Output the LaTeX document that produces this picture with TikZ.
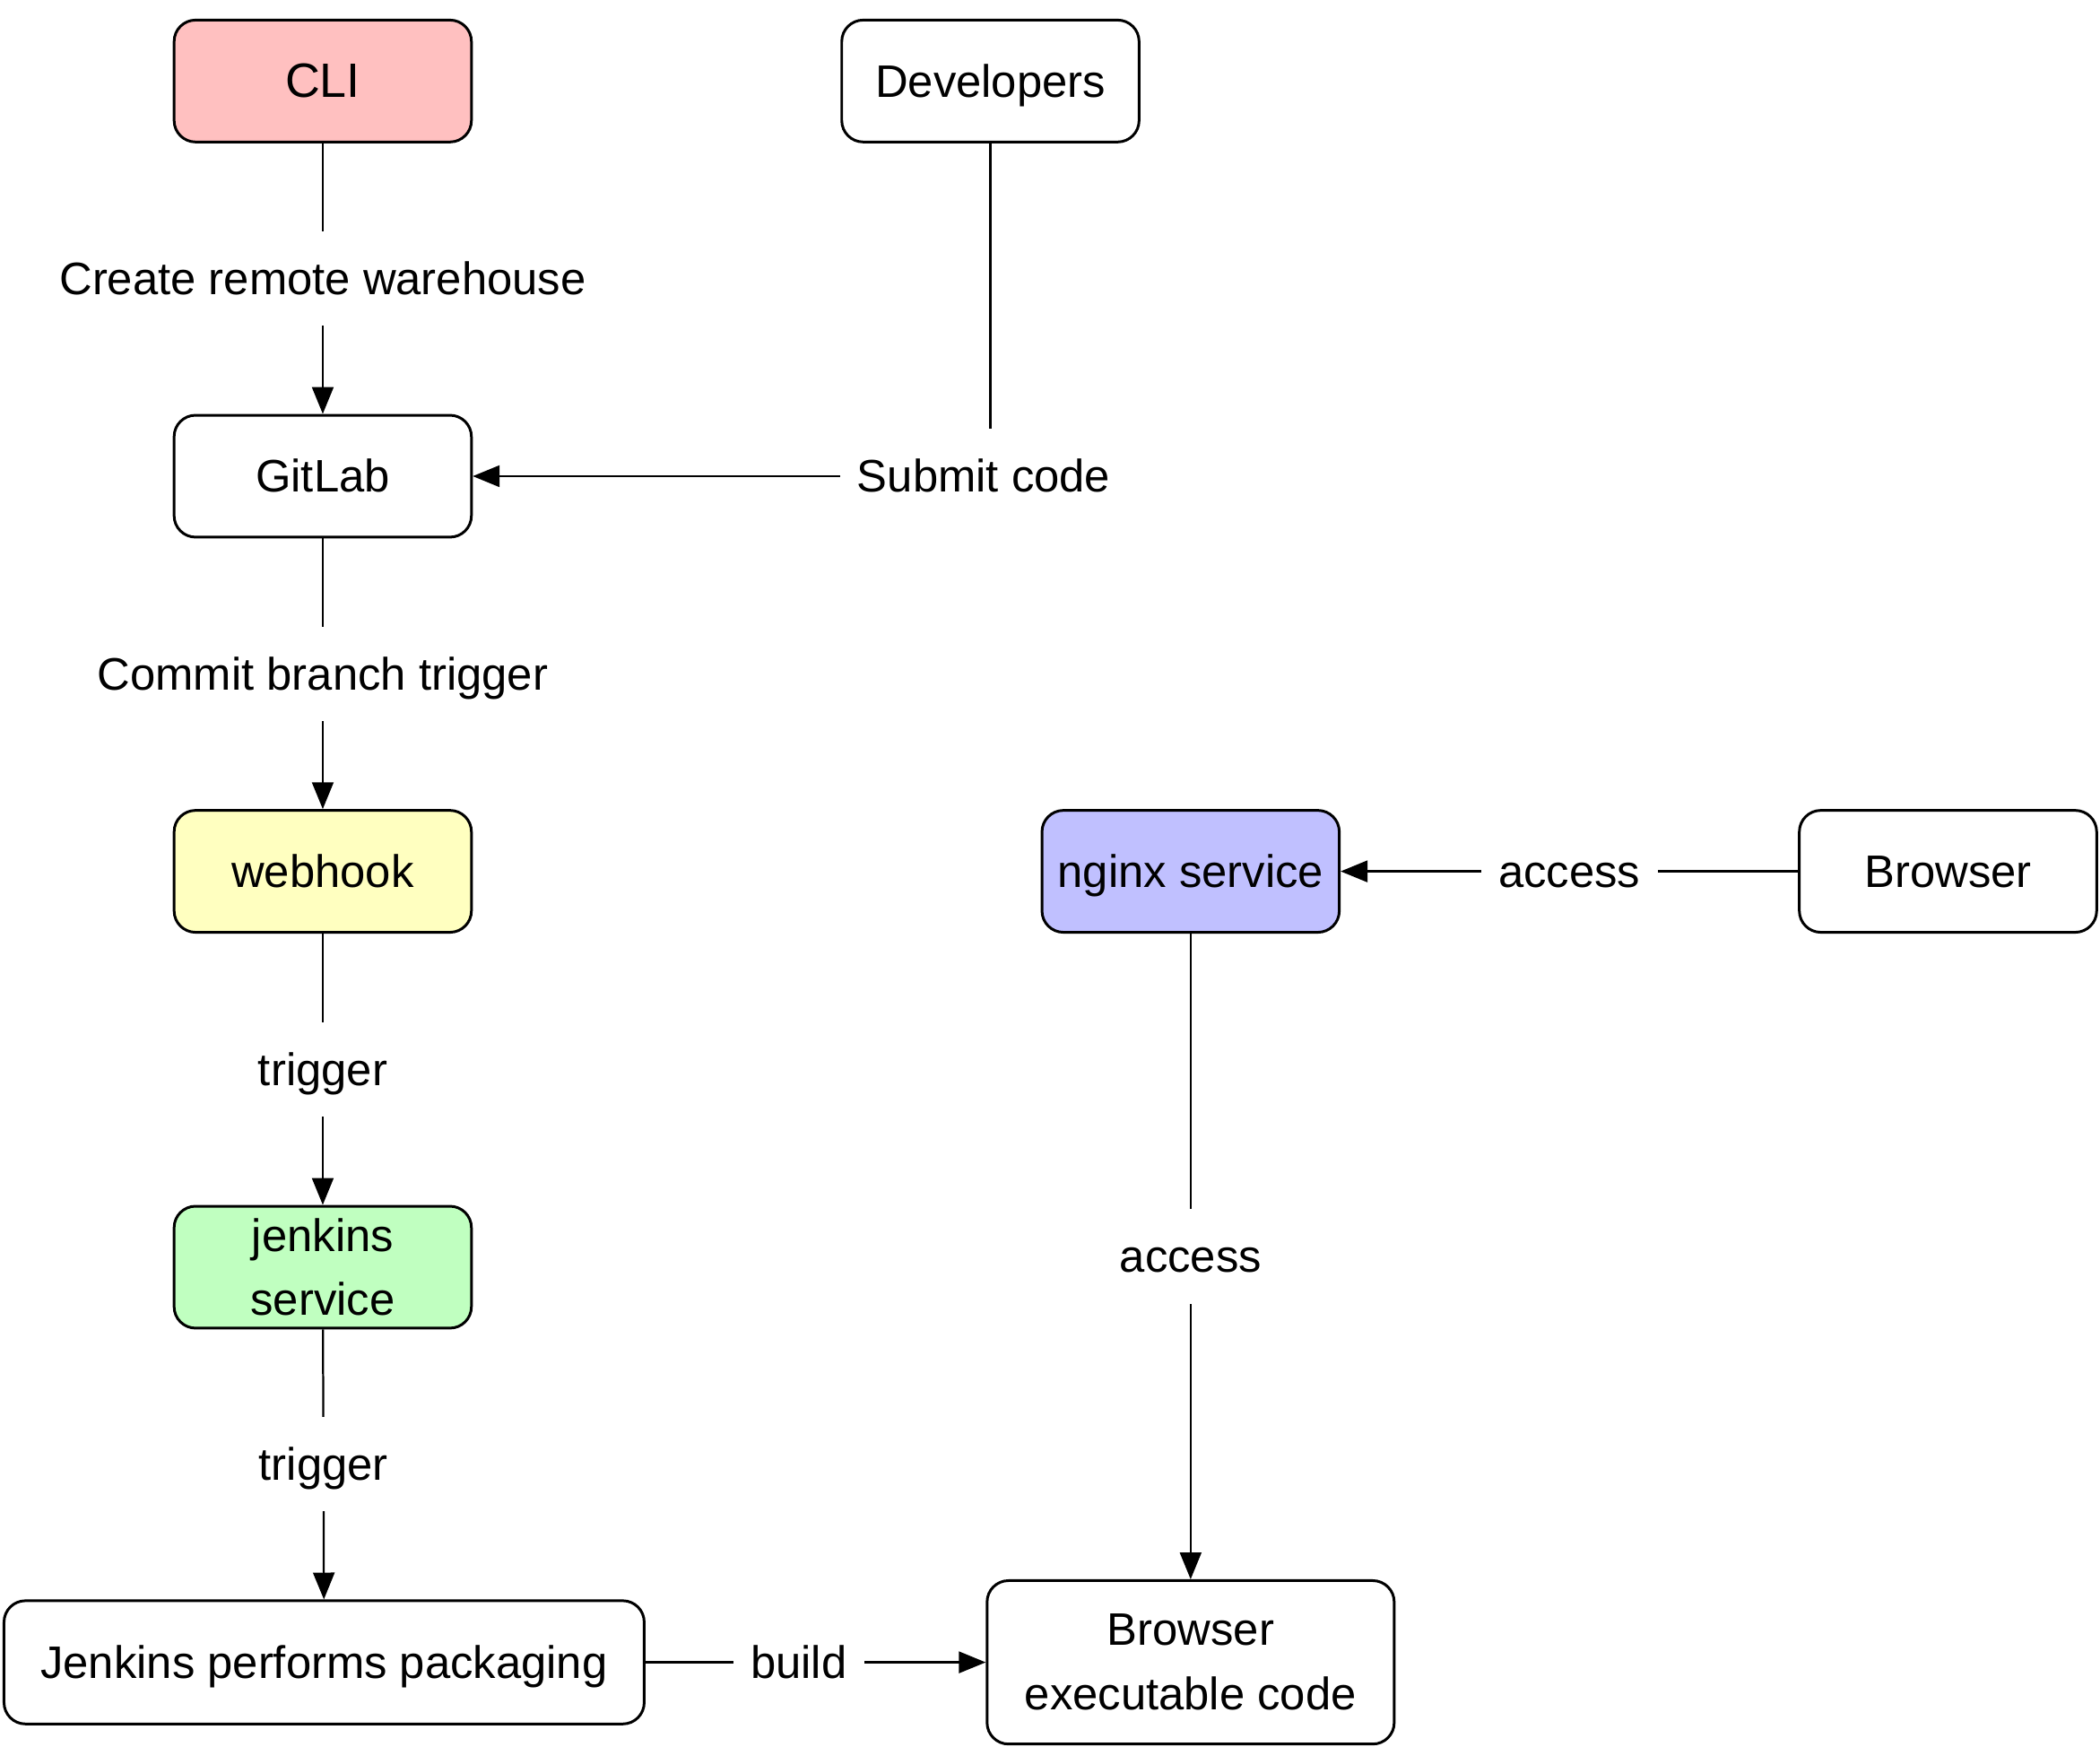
\documentclass[tikz,border=0pt]{standalone}
\usepackage{fontspec}
\setmainfont{Liberation Sans}
\usepackage{xcolor}
\usetikzlibrary{arrows.meta}

\definecolor{cliRed}{RGB}{255,192,192}
\definecolor{hookYellow}{RGB}{255,255,192}
\definecolor{jenkGreen}{RGB}{192,255,192}
\definecolor{nginxBlue}{RGB}{192,192,255}

\begin{document}
\begin{tikzpicture}[x=0.5pt,y=0.5pt,yscale=-1,xscale=1,
  box/.style={draw, line width=1pt, rounded corners=8pt, minimum width=111pt, minimum height=45.5pt,
    align=center, inner sep=2pt, font=\fontsize{17}{24}\selectfont},
  oneline/.style={text height=12pt, text depth=0pt},
  lbl/.style={fill=white, inner xsep=6.5pt, inner ysep=11.6pt, text height=12pt, text depth=0pt,
    font=\fontsize{17}{24}\selectfont},
  flow/.style={line width=0.75pt, -{Triangle[length=10pt,width=8pt]}}]
%set diagram left start at 0, and has height of 1304
\useasboundingbox (0,0) rectangle (1568,1304);

%Shape: Rounded Rect
\node [box, oneline, fill=cliRed, font=\fontsize{18}{24}\selectfont] (cli) at (241,60.5) {CLI};
%Shape: Rounded Rect
\node [box, oneline] (developers) at (739.5,60.5) {Developers};
%Shape: Rounded Rect
\node [box, oneline] (gitlab) at (241,355.5) {GitLab};
%Shape: Rounded Rect
\node [box, oneline, fill=hookYellow] (webhook) at (241,650.5) {webhook};
%Shape: Rounded Rect
\node [box, fill=jenkGreen] (jenkins) at (241,946) {jenkins\\service};
%Shape: Rounded Rect
\node [box, oneline, minimum width=239pt, minimum height=46pt] (packaging) at (242,1241) {Jenkins performs packaging};
%Shape: Rounded Rect
\node [box, oneline, fill=nginxBlue] (nginx) at (889,650.5) {nginx service};
%Shape: Rounded Rect
\node [box, oneline] (browser) at (1454.5,650.5) {Browser};
%Shape: Rounded Rect
\node [box, minimum width=152pt, minimum height=61pt] (bcode) at (889,1241) {Browser\\executable code};

%Straight Lines
\draw [flow] (cli) -- (gitlab) node [midway, lbl] {Create remote warehouse};
%Straight Lines
\draw [flow] (developers.south) |- (gitlab) node [pos=0.5, lbl, xshift=-2.5pt] {Submit code};
%Straight Lines
\draw [flow] (gitlab) -- (webhook) node [midway, lbl] {Commit branch trigger};
%Straight Lines
\draw [flow] (webhook) -- (jenkins) node [midway, lbl] {trigger};
%Straight Lines
\draw [flow] (jenkins) -- (packaging) node [midway, lbl] {trigger};
%Straight Lines
\draw [flow] (packaging) -- (bcode) node [pos=0.45, lbl] {build};
%Straight Lines
\draw [flow] (nginx) -- (bcode) node [midway, lbl] {access};
%Straight Lines
\draw [flow] (browser) -- (nginx) node [midway, lbl] {access};
\end{tikzpicture}
\end{document}
